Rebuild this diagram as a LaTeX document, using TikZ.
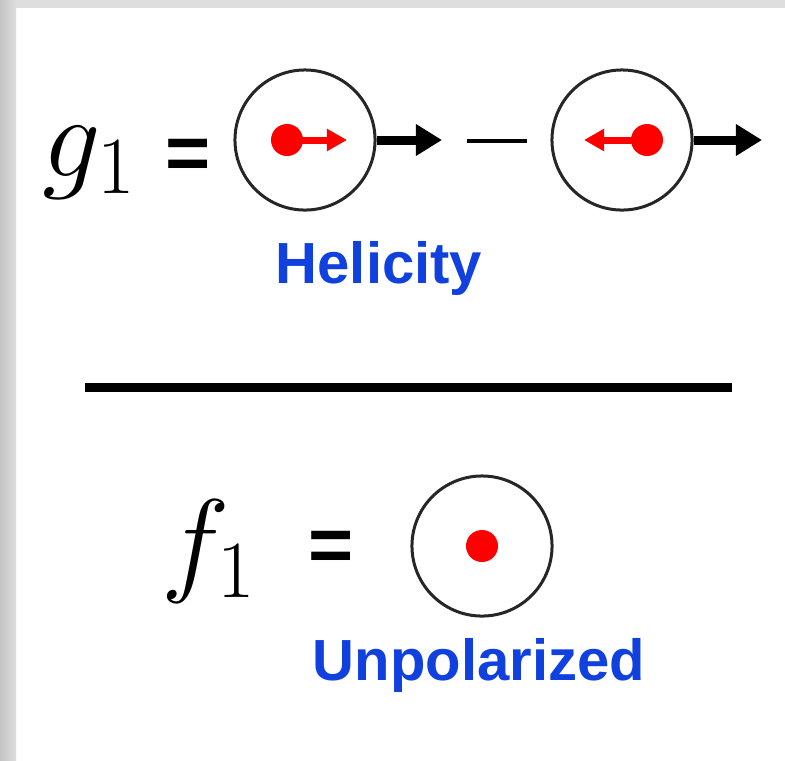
\documentclass[tikz,border=0pt]{standalone}
\usepackage{fix-cm}
\usepackage{fontspec}
\setsansfont{Liberation Sans}
\usepackage{xcolor}
\usepackage{tikz}
\usetikzlibrary{arrows.meta, positioning}

\definecolor{labelblue}{RGB}{16,64,222}
\definecolor{edgegray}{RGB}{196,196,196}
\definecolor{framegray}{RGB}{222,222,222}

\begin{document}
\begin{tikzpicture}[x=0.01cm, y=-0.01cm,
    ball/.style={circle, draw=black!85, line width=0.03cm, minimum size=1.4cm, inner sep=0pt},
    spin/.style={circle, fill=red, minimum size=0.32cm, inner sep=0pt},
    spinarrow/.style={red, line width=0.07cm, -{Triangle[length=0.2cm, width=0.21cm]}},
    momentum/.style={black, line width=0.09cm, -{Triangle[length=0.26cm, width=0.3cm]}},
    sym/.style={inner sep=0pt, font=\fontsize{33}{38}\selectfont},
    eq/.style={inner sep=0pt, anchor=base, font=\sffamily\bfseries\fontsize{22}{26}\selectfont},
    tag/.style={inner sep=0pt, anchor=base, text=labelblue, font=\sffamily\bfseries\fontsize{16.5}{20}\selectfont}]
    \useasboundingbox (0,0) rectangle (785,760);
    % frame
    \fill[framegray] (0,0) rectangle (785,8);
    \shade[left color=edgegray, right color=framegray] (0,0) rectangle (16,760);

    % helicity
    \node (g) [sym, anchor=base west] at (42,176) {$g_1$};
    \node (eqg) [eq] at (188,179) {=};
    \node (b1) [ball] at (305,140) {};
    \node (s1) [spin] at (287,140) {};
    \coordinate (t1) at (347,140);
    \coordinate (p1) at (442,140);
    \draw [spinarrow] (s1.center) -- (t1);
    \draw [momentum] (b1.east) -- (p1);
    \draw [line width=0.045cm] (467,141) -- (527,141);
    \node (b2) [ball] at (622,140) {};
    \node (s2) [spin] at (647,140) {};
    \coordinate (t2) at (584,140);
    \coordinate (p2) at (762,140);
    \draw [spinarrow] (s2.center) -- (t2);
    \draw [momentum] (b2.east) -- (p2);
    \node (hel) [tag] at (379,283) {Helicity};

    \draw [line width=0.09cm] (85,387) -- (732,387);

    % unpolarized
    \node (f) [sym, anchor=base west] at (161,580) {$f_1$};
    \node (eqf) [eq] at (331,571) {=};
    \node (b3) [ball] at (482,546) {};
    \node (s3) [spin] at (482,546) {};
    \node (unp) [tag] at (479,680) {Unpolarized};
\end{tikzpicture}
\end{document}
